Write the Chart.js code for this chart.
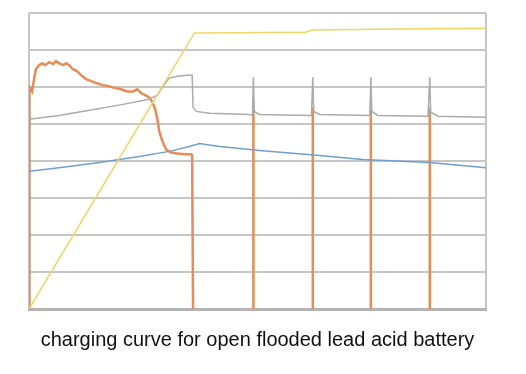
<!DOCTYPE html>
<html>
<head>
<meta charset="utf-8">
<title>charging curve</title>
<script src="https://cdn.jsdelivr.net/npm/chart.js@4/dist/chart.umd.min.js"></script>
<style>
    html, body { margin: 0; padding: 0; background: #fff; }
    #wrap { width: 526px; height: 374px; }
</style>
</head>
<body>
<div id="wrap"><canvas id="chart" width="526" height="374"></canvas></div>
<script>
// --- Data (x = share of charge time 0..100, y = grid units 0..8) ---
// null = pen lifted (current sits on the axis between the pulses)
const currentX = [0, 0, 0.2, 0.66, 1.1, 1.5, 2.2, 2.9, 3.5, 4.4, 5.3, 5.9, 6.6, 7.5, 8.1, 8.8, 9.6, 10.5, 11.4, 12.5, 13.6, 14.9, 16.2, 17.5, 18.9, 20.2, 21.5, 22.8, 23.7, 24.6, 25.4, 26.3, 27.0, 27.6, 28.1, 28.5, 29.2, 30.0, 31.1, 32.5, 34.0, 35.5, 35.7, 35.9,
    36.0, 49.1, 49.1, 49.2, 62.1, 62.1, 62.2, 74.8, 74.8, 74.9, 87.7, 87.7];
const currentY = [0, 5.80, 5.99, 5.88, 6.21, 6.48, 6.59, 6.64, 6.59, 6.67, 6.62, 6.70, 6.64, 6.59, 6.64, 6.59, 6.48, 6.43, 6.32, 6.21, 6.16, 6.10, 6.05, 6.02, 5.97, 5.94, 5.88, 5.88, 5.94, 5.83, 5.78, 5.72, 5.59, 5.40, 5.13, 4.80, 4.53, 4.31, 4.23, 4.20, 4.18, 4.18, 4.15, 0,
    null, 0, 5.45, null, 0, 5.45, null, 0, 5.45, null, 0, 5.45];

const voltageX = [0, 6.6, 13.2, 19.7, 26.3, 28.1, 29.6, 30.7, 32.5, 34.6, 35.7, 35.9, 36.6, 39.5, 48.2, 48.9, 49.1, 49.3, 50.4, 61.4, 61.8, 62.1, 62.3, 63.6, 74.6, 74.8, 75.0, 76.3, 87.3, 87.7, 87.9, 89.5, 100];
const voltageY = [5.13, 5.23, 5.37, 5.51, 5.67, 5.78, 6.07, 6.24, 6.29, 6.32, 6.32, 5.45, 5.34, 5.29, 5.26, 5.23, 6.26, 5.34, 5.26, 5.23, 5.23, 6.26, 5.34, 5.26, 5.23, 6.26, 5.34, 5.23, 5.21, 6.26, 5.32, 5.21, 5.18];

const tempX = [0, 6.6, 15.4, 24.1, 30.7, 35.1, 37.3, 41.7, 51.1, 63.6, 73.0, 87.7, 100];
const tempY = [3.72, 3.82, 3.96, 4.12, 4.26, 4.39, 4.47, 4.39, 4.28, 4.15, 4.04, 3.96, 3.82];

const chargeX = [0, 36.2, 60.5, 62.1, 81.1, 100];
const chargeY = [0, 7.46, 7.48, 7.54, 7.57, 7.59];

const titleText = 'charging curve for open flooded lead acid battery';

function toPoints(xs, ys) {
    return xs.map((x, i) => ({ x: x, y: ys[i] }));
}

function lineSet(label, xs, ys, color, width) {
    return {
        label: label,
        data: toPoints(xs, ys),
        borderColor: color,
        backgroundColor: color,
        borderWidth: width,
        pointRadius: 0,
        tension: 0,
        spanGaps: false,
        fill: false
    };
}

const ctx = document.getElementById('chart').getContext('2d');
new Chart(ctx, {
    type: 'line',
    data: {
        datasets: [
            lineSet('Charge', chargeX, chargeY, '#f2d462', 1.5),
            lineSet('Temperature', tempX, tempY, '#6f9fd2', 1.5),
            lineSet('Voltage', voltageX, voltageY, '#ababab', 1.5),
            lineSet('Current', currentX, currentY, '#eb8a52', 2.5)
        ]
    },
    options: {
        responsive: false,
        animation: false,
        layout: { padding: { left: 29, right: 40, top: 13, bottom: 0 } },
        plugins: {
            legend: { display: false },
            tooltip: { enabled: false },
            title: {
                display: true,
                position: 'bottom',
                text: titleText,
                color: '#111',
                font: { family: '"Liberation Sans", Arial, sans-serif', size: 20, weight: 'normal' },
                padding: { top: 19, bottom: 22 }
            }
        },
        scales: {
            x: {
                type: 'linear',
                min: 0,
                max: 100,
                ticks: { display: false, stepSize: 100 },
                grid: { color: '#c6c6c6', lineWidth: 2, drawTicks: false },
                border: { display: true, color: '#b4b4b4', width: 3 }
            },
            y: {
                min: 0,
                max: 8,
                ticks: { display: false, stepSize: 1 },
                grid: { color: '#c6c6c6', lineWidth: 2, drawTicks: false },
                border: { display: false }
            }
        }
    }
});
</script>
</body>
</html>
